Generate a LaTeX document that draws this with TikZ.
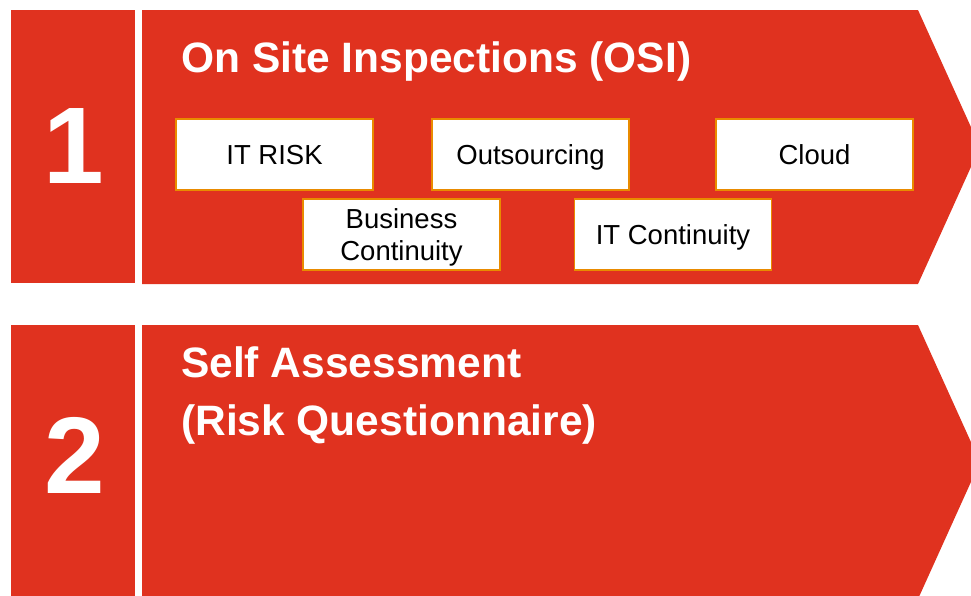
\documentclass[tikz,border=0pt]{standalone}
\usepackage{fontspec}
\setmainfont{Liberation Sans}
\begin{document}
\definecolor{panelred}{HTML}{E0321F}
\definecolor{boxline}{HTML}{E98B00}
\begin{tikzpicture}[x=1pt,y=-1pt,
  panel/.style={fill=panelred},
  numtext/.style={text=white,font=\fontsize{109}{109}\selectfont\bfseries,inner sep=0pt},
  titletext/.style={text=white,font=\fontsize{42.5}{58}\selectfont\bfseries,inner sep=0pt,align=left},
  topic/.style={draw=boxline,line width=1.6pt,fill=white,text=black,
    minimum width=197pt,minimum height=71pt,inner sep=0pt,
    font=\fontsize{27.5}{32}\selectfont,align=center},
  oneline/.style={text height=20pt,text depth=0pt}]
\useasboundingbox (0,0) rectangle (971,595);
\begin{scope}
\clip (0,0) rectangle (971,595);
% step 1: number block and arrow panel
\fill[panel] (11,10) rectangle (135,283);
\fill[panel] (142,10) -- (918,10) -- (980,147) -- (918,284) -- (142,284) -- cycle;
% step 2: number block and arrow panel
\fill[panel] (11,325) rectangle (135,605);
\fill[panel] (142,325) -- (918,325) -- (980,462) -- (918,599) -- (142,599) -- cycle;
\end{scope}
% numbers
\node[numtext] (num1) at (74,146) {1};
\node[numtext] (num2) at (75,455.5) {2};
% headings
\node[titletext,anchor=base west] (osi) at (181,72) {On Site Inspections (OSI)};
\node[titletext,anchor=north west] (self) at (181,346) {Self Assessment\\(Risk Questionnaire)};
% inspection topics
\node[topic,oneline] (itrisk) at (274.5,154.5) {IT RISK};
\node[topic,oneline] (outsrc) at (530.5,154.5) {Outsourcing};
\node[topic,oneline] (cloud) at (814.5,154.5) {Cloud};
\node[topic] (bizcont) at (401.5,234.5) {};
\node[text=black,font=\fontsize{27.5}{32}\selectfont,align=center,anchor=base,inner sep=0pt] (bizlabel) at (401.5,260) {Business\\Continuity};
\node[topic,oneline] (itcont) at (673,234.5) {IT Continuity};
\end{tikzpicture}
\end{document}
